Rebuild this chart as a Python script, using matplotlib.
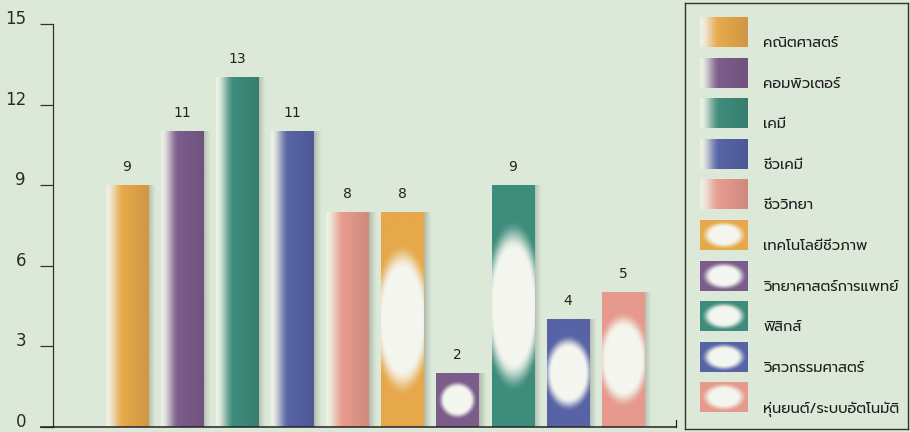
import numpy as np
import matplotlib
matplotlib.use('Agg')
import matplotlib.pyplot as plt
from matplotlib.colors import to_rgb

# ---------------- data ----------------
categories = ['คณิตศาสตร์', 'คอมพิวเตอร์', 'เคมี', 'ชีวเคมี', 'ชีววิทยา',
              'เทคโนโลยีชีวภาพ', 'วิทยาศาสตร์การแพทย์', 'ฟิสิกส์',
              'วิศวกรรมศาสตร์', 'หุ่นยนต์/ระบบอัตโนมัติ']
values = [9, 11, 13, 11, 8, 8, 2, 9, 4, 5]
yticks = [0, 3, 6, 9, 12, 15]
ytick_labels = ['0', '3', '6', '9', '12', '15']

# ---------------- style ----------------
base_colors = ['#E6A84A', '#7B5C8B', '#3E8C7B', '#5663A5', '#E69A8D'] * 2
styles = ['linear'] * 5 + ['radial'] * 5
BG = '#DDE9D8'
LIGHT = np.array(to_rgb('#EEF2E6'))
WHITE = np.array(to_rgb('#F4F6EF'))
SHADOW = np.array(to_rgb('#9AA596'))
THAI_FONT = ['Prompt', 'DejaVu Sans']
NUM_FONT = ['DejaVu Sans']

plt.rcParams['font.family'] = THAI_FONT


def smooth(t):
    t = np.clip(t, 0, 1)
    return t * t * (3 - 2 * t)


def linear_img(c, nx=80):
    c = np.array(to_rgb(c))
    x = np.linspace(0, 1, nx)
    t = smooth(x / 0.42)
    dark = 1 - 0.10 * np.clip((x - 0.42) / 0.58, 0, 1)
    rgb = LIGHT[None, :] * (1 - t[:, None]) + c[None, :] * t[:, None]
    rgb = rgb * dark[:, None]
    return rgb[None, :, :]


def radial_img(c, hpx, wpx, r0=0.47, r1=0.72, n=160):
    c = np.array(to_rgb(c))
    ys = np.linspace(-1, 1, n)
    xs = np.linspace(-1, 1, 60)
    X, Y = np.meshgrid(xs, ys)
    ratio = hpx / wpx
    ax_w = 0.42 + 0.45 / ratio
    r = np.sqrt((X * ax_w) ** 2 + Y ** 2)
    t = smooth((r - r0) / (r1 - r0))
    rgb = WHITE[None, None, :] * (1 - t[..., None]) + c[None, None, :] * t[..., None]
    return rgb


fig = plt.figure(figsize=(9.1, 4.32), dpi=100)
fig.patch.set_facecolor(BG)

W, H = 910.0, 432.0
ax_left, ax_right, ax_bottom, ax_top = 53, 676, 427, 24
ax = fig.add_axes([ax_left / W, 1 - ax_bottom / H, (ax_right - ax_left) / W,
                   (ax_bottom - ax_top) / H])
ax.set_facecolor('none')

n = len(values)
x = np.arange(n)
xlim = (-1.34, 9.96)
bw = 0.77
px_per_unit_y = (ax_bottom - ax_top) / 15.0
px_per_unit_x = (ax_right - ax_left) / (xlim[1] - xlim[0])

for i, (v, c, s) in enumerate(zip(values, base_colors, styles)):
    x0, x1 = x[i] - bw / 2, x[i] + bw / 2
    # soft shadow on the right
    sw = 0.13
    sh = np.zeros((1, 30, 4))
    sh[..., :3] = SHADOW
    sh[..., 3] = np.linspace(0.75, 0.0, 30) ** 1.2
    ax.imshow(sh, extent=(x1, x1 + sw, 0, v), aspect='auto', zorder=1,
              interpolation='bilinear')
    if s == 'linear':
        img = linear_img(c)
    else:
        img = radial_img(c, v * px_per_unit_y, bw * px_per_unit_x)
    ax.imshow(img, extent=(x0, x1, 0, v), aspect='auto', zorder=2,
              interpolation='bilinear')
    ax.text(x[i], v + 0.42, str(v), ha='center', va='bottom', fontsize=10,
            family=NUM_FONT, color='#222222', zorder=3)

ax.set_xlim(*xlim)
ax.set_ylim(0, 15)
ax.set_yticks(yticks)
ax.set_yticklabels([])
ax.tick_params(axis='y', direction='out', length=9.4, width=0.9, color='#333333')
ax.set_xticks([])
for sp in ['top', 'right', 'bottom']:
    ax.spines[sp].set_visible(False)
ax.spines['left'].set_color('#333333')
ax.spines['left'].set_linewidth(0.9)

# y tick labels, a little above their ticks as in the original
for v, lab in zip(yticks, ytick_labels):
    ypix = ax_bottom - v * px_per_unit_y - 5
    fig.text(26 / W, 1 - ypix / H, lab, ha='right', va='center', fontsize=12,
             family=NUM_FONT, color='#2a2a2a')

# bottom axis line (extends left to tick length) with a small end tick
ax.plot([-13 / px_per_unit_x + xlim[0], xlim[1]], [0, 0], color='#222222',
        lw=1.1, clip_on=False, zorder=4, solid_capstyle='butt')
ax.plot([xlim[1], xlim[1]], [0, 7 / px_per_unit_y], color='#222222', lw=0.9,
        clip_on=False, zorder=4)

# ---------------- legend ----------------
lx0, lx1, ly0, ly1 = 685, 908, 3, 429
lax = fig.add_axes([lx0 / W, 1 - ly1 / H, (lx1 - lx0) / W, (ly1 - ly0) / H])
lax.set_facecolor('none')
lax.set_xticks([])
lax.set_yticks([])
for sp in lax.spines.values():
    sp.set_color('#333333')
    sp.set_linewidth(1.0)

row0, drow = 14, 40.6
sw_x0, sw_x1, sw_h = 15, 63, 30
for i, (lab, c, s) in enumerate(zip(categories, base_colors, styles)):
    y0 = row0 + i * drow
    if s == 'linear':
        img = linear_img(c)
    else:
        ys = np.linspace(-1, 1, 60)
        xs = np.linspace(-1, 1, 80)
        X, Y = np.meshgrid(xs, ys)
        r = np.sqrt(X ** 2 + Y ** 2)
        t = smooth((r - 0.55) / 0.42)
        cc = np.array(to_rgb(c))
        img = WHITE[None, None, :] * (1 - t[..., None]) + cc[None, None, :] * t[..., None]
    lax.imshow(img, extent=(sw_x0, sw_x1, y0 + sw_h, y0), aspect='auto',
               interpolation='bilinear', zorder=2)
    lax.text(78, y0 + 30, lab, ha='left', va='baseline', fontsize=10.5,
             color='#1e1e1e', zorder=3)
lax.set_xlim(0, lx1 - lx0)
lax.set_ylim(ly1 - ly0, 0)

fig.savefig('out.png', dpi=100, facecolor=BG)
